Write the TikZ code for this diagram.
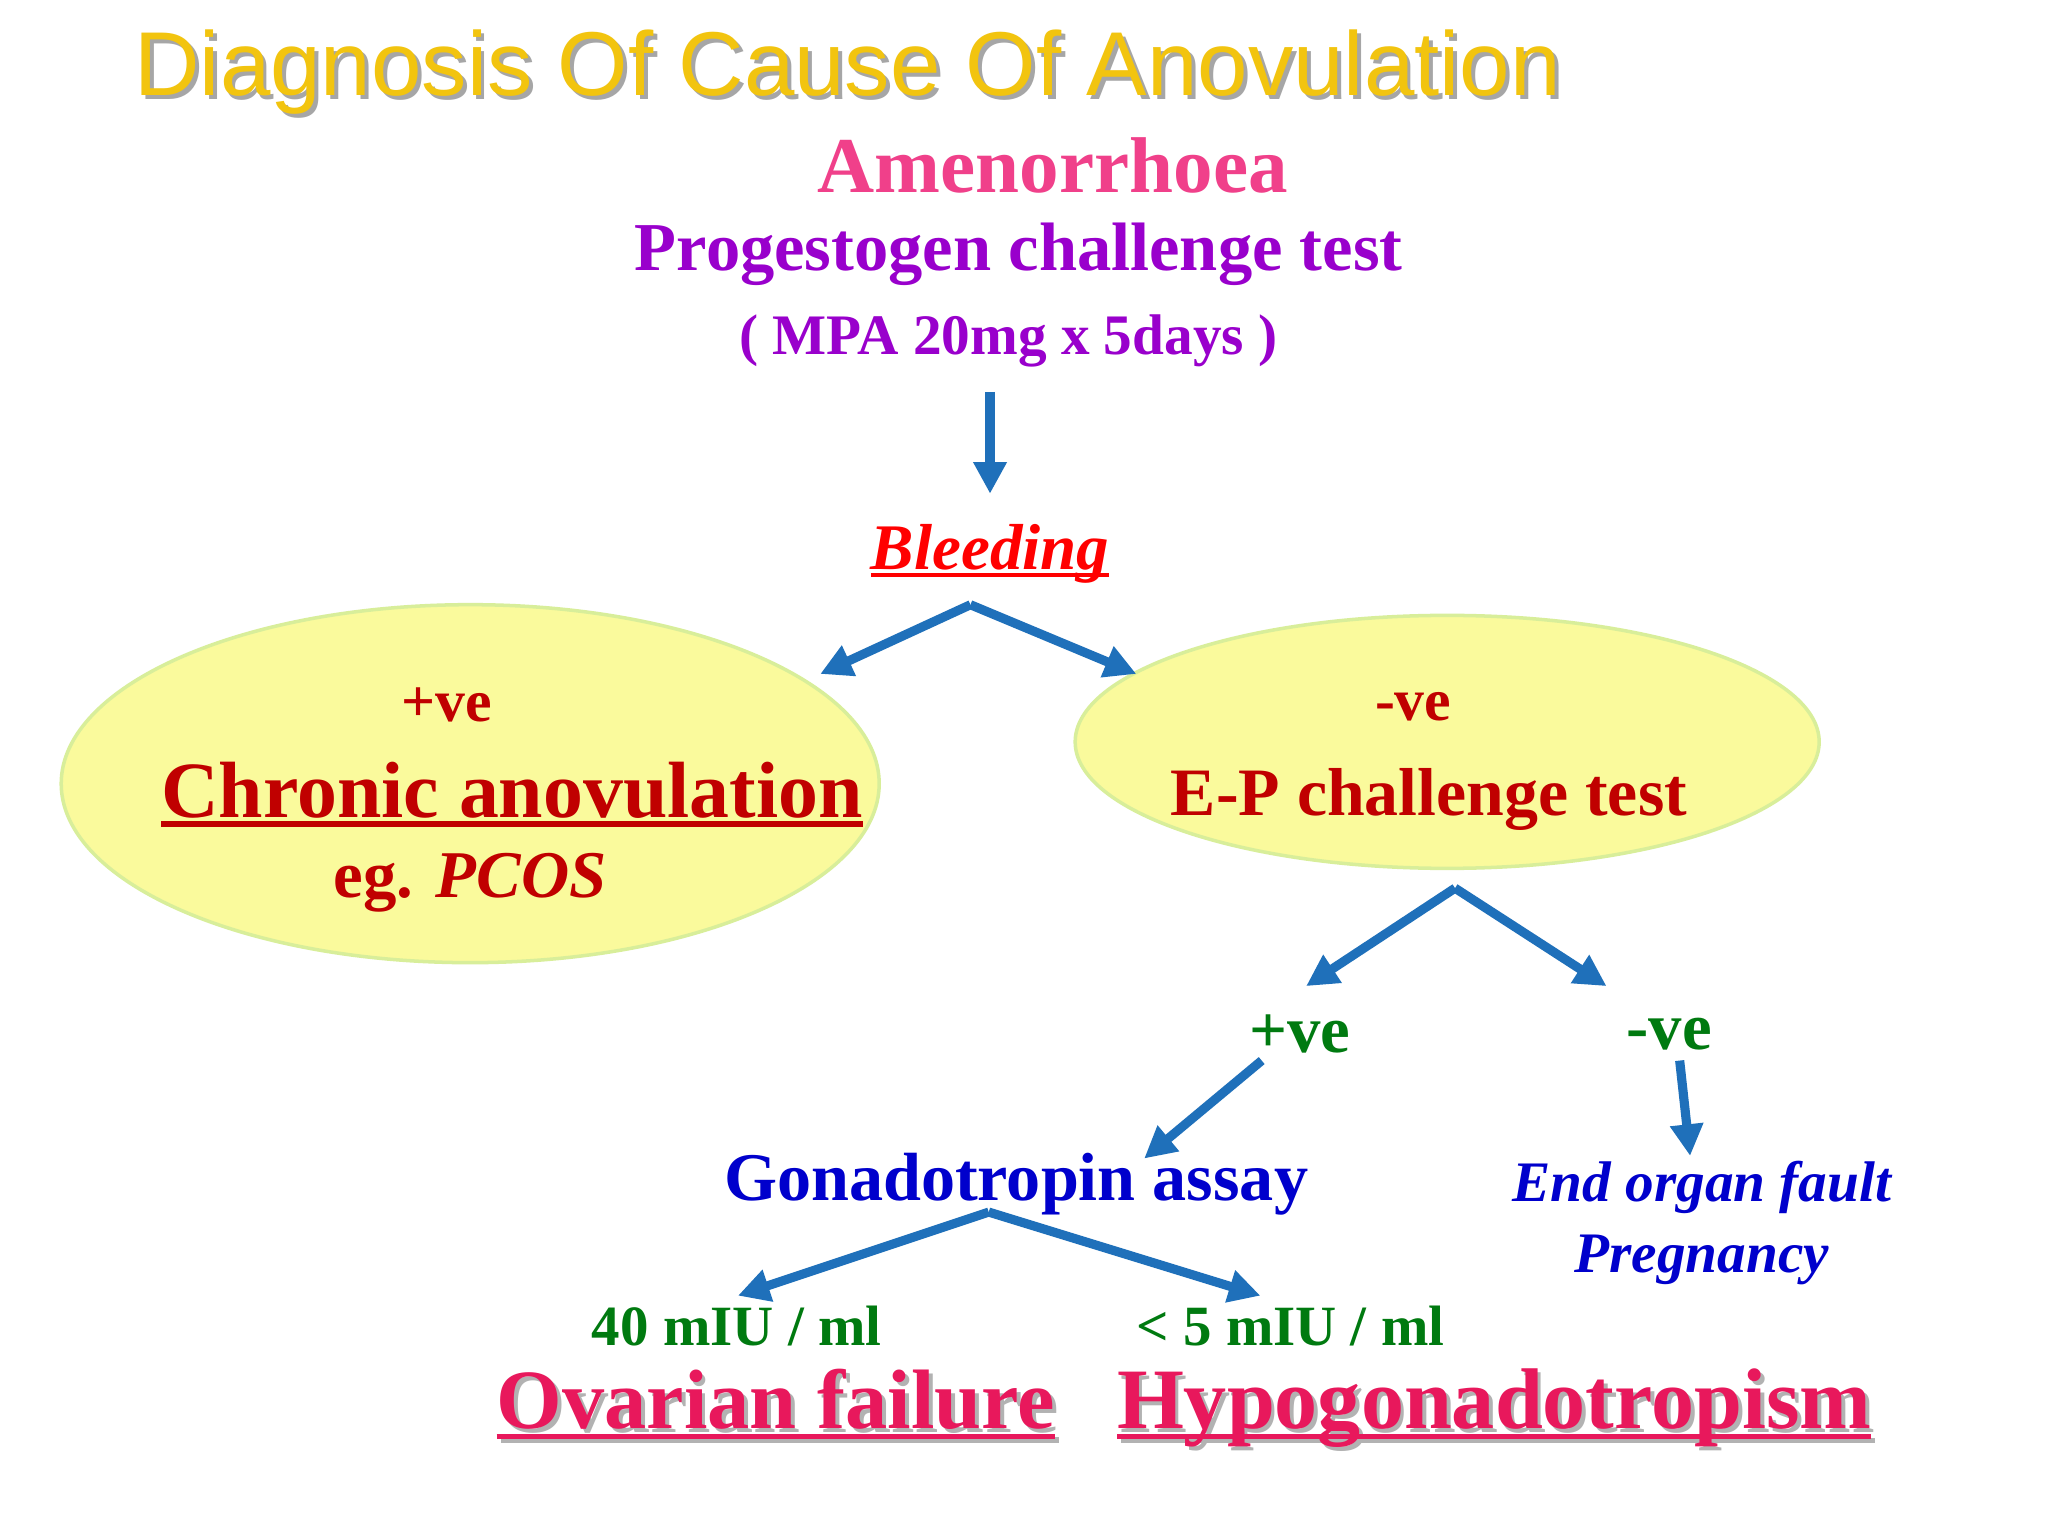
\documentclass[tikz,border=0pt]{standalone}
\usepackage{fontspec}
\setmainfont{Liberation Serif}
\newfontfamily\titlefont{Liberation Sans}
\usetikzlibrary{arrows.meta,shapes.geometric}
\definecolor{gold}{HTML}{F2C40F}
\definecolor{pinkA}{HTML}{F0408A}
\definecolor{purp}{HTML}{9900CC}
\definecolor{arr}{HTML}{1F70BA}
\definecolor{dred}{HTML}{C00000}
\definecolor{grn}{HTML}{007A10}
\definecolor{blu}{HTML}{0000CC}
\definecolor{hot}{HTML}{E8185C}
\definecolor{ell}{HTML}{FAFA9C}
\definecolor{ellb}{HTML}{D8EE9A}
\tikzset{
 arrow/.style={draw=arr,line width=2.6pt,-{Triangle[length=9pt,width=9pt]}},
 ovalbox/.style={ellipse,fill=ell,draw=ellb,line width=1pt},
 lbl/.style={inner sep=1pt,font=\bfseries},
}
\newcommand{\ulp}[1]{\setbox0\hbox{#1}\rlap{\rule[-0.12em]{\wd0}{0.065em}}\box0}
\begin{document}
\begin{tikzpicture}[x=0.01306cm,y=-0.01306cm]
\useasboundingbox (0,0) rectangle (1568,1176);
\fill[white] (0,0) rectangle (1568,1176);
% title
\node[text=black!35,font=\titlefont\fontsize{25.8}{30}\selectfont] at (652,58) {Diagnosis Of Cause Of Anovulation};
\node[text=gold,font=\titlefont\fontsize{25.8}{30}\selectfont] (title) at (649,55) {Diagnosis Of Cause Of Anovulation};
\node[lbl,text=pinkA,font=\bfseries\fontsize{22.5}{26}\selectfont] (amen) at (806,127) {Amenorrhoea};
\node[lbl,text=purp,font=\bfseries\fontsize{19.5}{23}\selectfont] (prog) at (780,195) {Progestogen challenge test};
\node[lbl,text=purp,font=\bfseries\fontsize{16.3}{19}\selectfont] (mpa) at (772,261) {( MPA 20mg x 5days )};
\coordinate (a1s) at (758,300); \coordinate (a1e) at (758,378);
\draw[arrow] (a1s) -- (a1e);
\node[lbl,text=red,font=\bfseries\itshape\fontsize{18.5}{22}\selectfont] (bleed) at (758,424) {\ulp{Bleeding}};
% ellipses
\node[ovalbox,minimum width=8.18cm,minimum height=3.58cm] (L) at (360,600) {};
\node[ovalbox,minimum width=7.44cm,minimum height=2.53cm] (R) at (1108,568) {};
\coordinate (b0) at (743,463); \coordinate (b1) at (628,516); \coordinate (b2) at (870,516);
\draw[arrow] (b0) -- (b1); \draw[arrow] (b0) -- (b2);
\node[lbl,text=dred,font=\bfseries\fontsize{17}{20}\selectfont] (lp) at (342,540) {+ve};
\node[lbl,text=dred,font=\bfseries\fontsize{22.7}{27}\selectfont] (chr) at (392,608) {\ulp{Chronic anovulation}};
\node[lbl,text=dred,font=\bfseries\fontsize{19}{22}\selectfont] (eg) at (360,676) {eg. \textit{PCOS}};
\node[lbl,text=dred,font=\bfseries\fontsize{17}{20}\selectfont] (rm) at (1082,541) {-ve};
\node[lbl,text=dred,font=\bfseries\fontsize{19.3}{23}\selectfont] (ep) at (1094,612) {E-P challenge test};
\coordinate (c0) at (1114,680); \coordinate (c1) at (1000,755); \coordinate (c2) at (1230,755);
\draw[arrow] (c0) -- (c1); \draw[arrow] (c0) -- (c2);
\node[lbl,text=grn,font=\bfseries\fontsize{19}{22}\selectfont] (gp) at (995,792) {+ve};
\node[lbl,text=grn,font=\bfseries\fontsize{19}{22}\selectfont] (gm) at (1278,792) {-ve};
\coordinate (d0) at (966,812); \coordinate (d1) at (876,887);
\coordinate (e0) at (1286,812); \coordinate (e1) at (1294,885);
\draw[arrow] (d0) -- (d1); \draw[arrow] (e0) -- (e1);
\node[lbl,text=blu,font=\bfseries\fontsize{19.4}{23}\selectfont] (gon) at (778,907) {Gonadotropin assay};
\node[lbl,text=blu,font=\bfseries\itshape\fontsize{16.3}{19}\selectfont] (eo) at (1303,909) {End organ fault};
\node[lbl,text=blu,font=\bfseries\itshape\fontsize{16.3}{19}\selectfont] (pr) at (1303,965) {Pregnancy};
\coordinate (f0) at (757,928); \coordinate (f1) at (565,992); \coordinate (f2) at (965,992);
\draw[arrow] (f0) -- (f1); \draw[arrow] (f0) -- (f2);
\node[lbl,text=grn,font=\bfseries\fontsize{16.2}{19}\selectfont] (g40) at (564,1015) {40 mIU / ml};
\node[lbl,text=grn,font=\bfseries\fontsize{16.2}{19}\selectfont] (g5) at (988,1015) {< 5 mIU / ml};
\node[lbl,anchor=base,text=black!30,font=\bfseries\fontsize{24}{28}\selectfont] at (597,1097) {\ulp{Ovarian failure}};
\node[lbl,anchor=base,text=hot,font=\bfseries\fontsize{24}{28}\selectfont] (ov) at (594,1094) {\ulp{Ovarian failure}};
\node[lbl,anchor=base,text=black!30,font=\bfseries\fontsize{24.5}{28}\selectfont] at (1147,1097) {\ulp{Hypogonadotropism}};
\node[lbl,anchor=base,text=hot,font=\bfseries\fontsize{24.5}{28}\selectfont] (hy) at (1144,1094) {\ulp{Hypogonadotropism}};
\end{tikzpicture}
\end{document}
